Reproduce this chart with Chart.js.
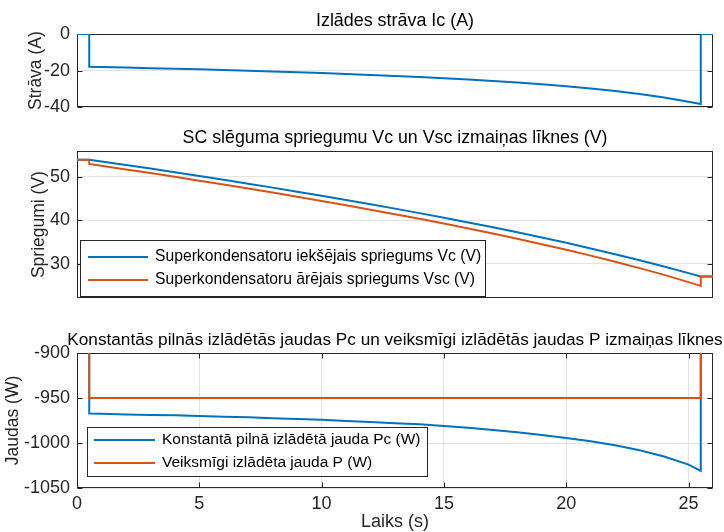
<!DOCTYPE html>
<html><head><meta charset="utf-8">
<script src="https://cdn.jsdelivr.net/npm/chart.js@4.4.1/dist/chart.umd.min.js"></script>
<style>
html,body{margin:0;padding:0;background:#fff;}
#wrap{position:relative;width:724px;height:532px;overflow:hidden;background:#fff;}
canvas{position:absolute;left:0;}
</style></head><body>
<div id="wrap">
<canvas id="c1" width="724" height="125" style="top:0px"></canvas>
<canvas id="c2" width="724" height="196" style="top:120px"></canvas>
<canvas id="c3" width="724" height="212" style="top:320px"></canvas>
</div>
<script>
// ---- data ----
const timeS = [0, 0.5, 0.5, 1, 2, 3, 4, 5, 6, 7, 8, 9, 10, 11, 12, 13, 14, 15, 16, 17, 18, 19, 20, 21, 22, 23, 24, 25, 25.5, 25.5, 26];
const currentIc = [0, 0, -17.9, -18.05, -18.35, -18.65, -18.95, -19.3, -19.7, -20.05, -20.45, -20.9, -21.3, -21.8, -22.35, -22.9, -23.5, -24.2, -24.9, -25.7, -26.55, -27.5, -28.6, -29.8, -31.2, -32.8, -34.7, -37.0, -38.3, 0, 0];
const voltageVc = [54, 54, 54.0, 53.59, 52.77, 51.94, 51.09, 50.22, 49.35, 48.45, 47.54, 46.61, 45.66, 44.69, 43.70, 42.69, 41.65, 40.59, 39.50, 38.37, 37.22, 36.02, 34.79, 33.50, 32.17, 30.78, 29.33, 27.79, 27.0, 27.0, 27.0];
const voltageVsc = [54, 54, 53.0, 52.58, 51.74, 50.90, 50.03, 49.14, 48.25, 47.33, 46.39, 45.44, 44.47, 43.47, 42.45, 41.41, 40.33, 39.23, 38.11, 36.93, 35.73, 34.48, 33.19, 31.83, 30.42, 28.94, 27.39, 25.72, 24.85, 27.0, 27.0];
const powerPc = [0, 0, -967.3, -967.6, -968.2, -968.8, -969.3, -970.1, -970.9, -971.5, -972.5, -973.3, -974.3, -975.6, -976.8, -978.0, -979.3, -981.0, -983.0, -985.5, -988.0, -991.0, -994.5, -998.0, -1002.5, -1008.0, -1015.0, -1024.0, -1031.0, 0, 0];
const powerP = [0, 0, -950, -950, -950, -950, -950, -950, -950, -950, -950, -950, -950, -950, -950, -950, -950, -950, -950, -950, -950, -950, -950, -950, -950, -950, -950, -950, -950, 0, 0];

const titles = ['Izlādes strāva Ic (A)', 'SC slēguma spriegumu Vc un Vsc izmaiņas līknes (V)', 'Konstantās pilnās izlādētās jaudas Pc un veiksmīgi izlādētās jaudas P izmaiņas līknes'];
const yLabels = ['Strāva (A)', 'Spriegumi (V)', 'Jaudas (W)'];
const xLabel = 'Laiks (s)';
const seriesNames = ['Superkondensatoru iekšējais spriegums Vc (V)', 'Superkondensatoru ārējais spriegums Vsc (V)', 'Konstantā pilnā izlādētā jauda Pc (W)', 'Veiksmīgi izlādēta jauda P (W)'];

// ---- styling ----
const FONT = "'Liberation Sans', Arial, Helvetica, sans-serif";
const AX = '#262626';
const GRID = '#e3e3e3';
const BLUE = '#0072BD';
const ORANGE = '#D95319';
const TICK_SIZE = 18;
const LABEL_SIZE = 17.5;

const pts = arr => timeS.map((t, i) => ({x: t, y: arr[i]}));

const framePlugin = {
  id: 'frame',
  beforeDatasetsDraw(chart) {
    const {ctx, chartArea: a, scales} = chart;
    ctx.save();
    ctx.strokeStyle = AX; ctx.lineWidth = 1;
    const L = Math.round(a.left) + 0.5, R = Math.round(a.right) - 0.5;
    const T = Math.round(a.top) + 0.5, B = Math.round(a.bottom) - 0.5;
    ctx.strokeRect(L, T, R - L, B - T);
    const tl = 5;
    ctx.beginPath();
    scales.y.ticks.forEach(t => {
      const p = Math.round(scales.y.getPixelForValue(t.value)) + 0.5;
      ctx.moveTo(L, p); ctx.lineTo(L + tl, p);
      ctx.moveTo(R, p); ctx.lineTo(R - tl, p);
    });
    if (scales.x.options.display) {
      scales.x.ticks.forEach(t => {
        const p = Math.round(scales.x.getPixelForValue(t.value)) + 0.5;
        ctx.moveTo(p, B); ctx.lineTo(p, B - tl);
        ctx.moveTo(p, T); ctx.lineTo(p, T + tl);
      });
    }
    ctx.stroke();
    ctx.restore();
  }
};

// axes title centred over the plot area (as in the reference)
const axTitle = {
  id: 'axTitle',
  afterDraw(chart, args, o) {
    if (!o || !o.text) return;
    const {ctx, chartArea: a} = chart;
    ctx.save();
    ctx.font = o.size + 'px ' + FONT; ctx.fillStyle = '#000';
    ctx.textAlign = 'center'; ctx.textBaseline = 'middle';
    ctx.fillText(o.text, (a.left + a.right) / 2, o.y);
    ctx.restore();
  }
};

const boxLegend = {
  id: 'boxLegend',
  afterDatasetsDraw(chart, args, o) {
    if (!o || !o.box) return;
    const {ctx} = chart; const b = o.box;
    ctx.save();
    ctx.fillStyle = '#fff'; ctx.fillRect(b.x, b.y, b.w, b.h);
    ctx.strokeStyle = AX; ctx.lineWidth = 1; ctx.strokeRect(b.x + 0.5, b.y + 0.5, b.w, b.h);
    ctx.font = o.size + 'px ' + FONT; ctx.textBaseline = 'middle'; ctx.textAlign = 'left';
    chart.data.datasets.forEach((ds, i) => {
      const y = b.y + o.firstRow + i * o.rowGap;
      ctx.strokeStyle = ds.borderColor; ctx.lineWidth = 2;
      ctx.beginPath(); ctx.moveTo(b.x + o.lineX0, y); ctx.lineTo(b.x + o.lineX1, y); ctx.stroke();
      ctx.fillStyle = '#000';
      ctx.fillText(ds.label, b.x + o.textX, y);
    });
    ctx.restore();
  }
};

function lineDs(label, arr, color, order) {
  return {label, data: pts(arr), borderColor: color, backgroundColor: color, borderWidth: 2,
    pointRadius: 0, tension: 0, fill: false, order};
}

function makeChart(id, p) {
  return new Chart(document.getElementById(id), {
    type: 'line',
    data: {datasets: p.datasets},
    plugins: [framePlugin, boxLegend, axTitle],
    options: {
      responsive: false, animation: false,
      layout: {padding: {left: 0, right: 11, top: p.padTop, bottom: p.padBottom}},
      plugins: {
        legend: {display: false}, tooltip: {enabled: false}, title: {display: false},
        axTitle: {text: p.title, y: p.titleY, size: p.titleSize},
        boxLegend: p.legend || {}
      },
      scales: {
        x: {
          type: 'linear', min: 0, max: 26, display: p.showX,
          ticks: {stepSize: 5, includeBounds: false, color: AX, font: {family: FONT, size: TICK_SIZE}, padding: 5, maxRotation: 0,
            callback: v => String(v)},
          grid: {color: GRID, drawTicks: false}, border: {display: false},
          title: {display: true, text: xLabel, color: AX, font: {family: FONT, size: 18}, padding: {top: 0, bottom: -1}},
          afterFit(s) { s.height = p.showX ? 44 : 0; }
        },
        y: {
          min: p.ymin, max: p.ymax,
          ticks: {stepSize: p.ystep, includeBounds: false, color: AX, font: {family: FONT, size: TICK_SIZE}, padding: 7,
            callback: v => String(v)},
          grid: {color: GRID, drawTicks: false}, border: {display: false},
          title: {display: true, text: p.ylabel, color: AX, font: {family: FONT, size: LABEL_SIZE}, padding: {top: p.ylabPad, bottom: 0}},
          afterFit(s) { s.width = 77; }
        }
      }
    }
  });
}

makeChart('c1', {
  title: titles[0], titleY: 21, titleSize: 17.9, padTop: 34, padBottom: 13, showX: false,
  ymin: -40, ymax: 0, ystep: 20, ylabel: yLabels[0], ylabPad: 26,
  datasets: [lineDs('Ic', currentIc, BLUE, 1)]
});
makeChart('c2', {
  title: titles[1], titleY: 18.5, titleSize: 17.8, padTop: 31, padBottom: 13, showX: false,
  ymin: 22, ymax: 56, ystep: 10, ylabel: yLabels[1], ylabPad: 29,
  datasets: [lineDs(seriesNames[0], voltageVc, BLUE, 1), lineDs(seriesNames[1], voltageVsc, ORANGE, 0)],
  legend: {box: {x: 80, y: 120, w: 405, h: 56}, firstRow: 17, rowGap: 23, lineX0: 8, lineX1: 68, textX: 75, size: 15.7}
});
makeChart('c3', {
  title: titles[2], titleY: 20, titleSize: 17.2, padTop: 33, padBottom: 0, showX: true,
  ymin: -1050, ymax: -900, ystep: 50, ylabel: yLabels[2], ylabPad: 3,
  datasets: [lineDs(seriesNames[2], powerPc, BLUE, 1), lineDs(seriesNames[3], powerP, ORANGE, 0)],
  legend: {box: {x: 87, y: 107, w: 340, h: 49}, firstRow: 13, rowGap: 23, lineX0: 7, lineX1: 68, textX: 75, size: 15.5}
});
</script>
</body></html>
